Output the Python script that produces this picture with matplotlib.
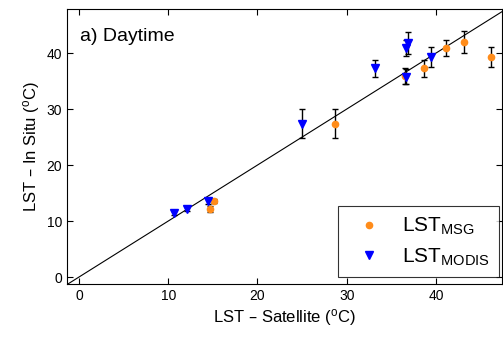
import numpy as np
import matplotlib
matplotlib.use('Agg')
import matplotlib.pyplot as plt

plt.rcParams['font.family'] = ['Liberation Sans', 'DejaVu Sans']
plt.rcParams['mathtext.default'] = 'regular'

# LST MSG (satellite vs in situ)
msg_sat = [14.7, 15.1, 28.7, 36.5, 38.7, 41.1, 43.1, 46.2]
msg_insitu = [12.2, 13.6, 27.4, 35.9, 37.3, 40.9, 42.0, 39.3]
msg_err = [0.5, 0.4, 2.6, 1.4, 1.5, 1.4, 1.9, 1.8]

# LST MODIS
modis_sat = [10.7, 12.1, 14.5, 25.0, 33.2, 36.7, 36.7, 36.9, 39.4]
modis_insitu = [11.4, 12.2, 13.6, 27.4, 37.3, 35.8, 40.9, 41.8, 39.3]
modis_err = [0.4, 0.4, 0.5, 2.6, 1.5, 1.4, 1.4, 1.9, 1.8]

fig = plt.figure(figsize=(5.03, 3.41), dpi=100)
ax = fig.add_axes([0.133, 0.167, 0.865, 0.807])

lim = np.array([-1.5, 48.5])
ax.plot(lim, lim, color='black', lw=0.8)

ax.errorbar(msg_sat, msg_insitu, yerr=msg_err, fmt='none', ecolor='black',
            elinewidth=1, capsize=2.5, capthick=1)
ax.errorbar(modis_sat, modis_insitu, yerr=modis_err, fmt='none', ecolor='black',
            elinewidth=1, capsize=2.5, capthick=1)
ax.plot(msg_sat, msg_insitu, 'o', color='#ff8c1a', ms=4.5, mec='#ff8c1a',
        label='LST$_{MSG}$')
ax.plot(modis_sat, modis_insitu, 'v', color='#0000ff', ms=5.5, mec='#0000ff',
        label='LST$_{MODIS}$')

ax.set_xlim(-1.35, 47.4)
ax.set_ylim(-1.25, 47.9)
ax.set_xticks([0, 10, 20, 30, 40])
ax.set_yticks([0, 10, 20, 30, 40])
ax.tick_params(direction='in', top=True, right=True, labelsize=10, length=4)

ax.set_xlabel('LST – Satellite ($^{o}$C)', fontsize=12, labelpad=3)
ax.set_ylabel('LST – In Situ ($^{o}$C)', fontsize=12, labelpad=3)

ax.text(0.03, 0.93, 'a) Daytime', transform=ax.transAxes, fontsize=14,
        va='top', ha='left')

leg = ax.legend(loc='lower right', fontsize=15, frameon=True, fancybox=False,
                edgecolor='black', borderpad=0.45, labelspacing=0.45,
                handletextpad=0.6, handlelength=2.0, borderaxespad=0,
                bbox_to_anchor=(0.993, 0.025))
leg.get_frame().set_linewidth(0.8)

fig.savefig('out.png', dpi=100)
